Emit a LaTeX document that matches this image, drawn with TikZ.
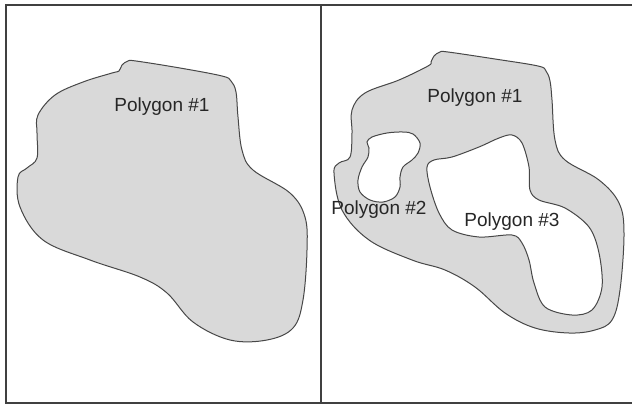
\documentclass[tikz,border=0pt]{standalone}
\usepackage{fontspec}
\setmainfont{Liberation Sans}
\begin{document}
\begin{tikzpicture}[x=1pt,y=-1pt,
  frameline/.style={draw=black!75,line width=1.6pt},
  region/.style={draw=black!72,line width=1pt,fill=black!15,even odd rule},
  label/.style={font=\fontsize{19}{22}\selectfont,text=black!85,inner sep=0pt}]
\useasboundingbox (0,0) rectangle (632,407);
% frame
\draw[frameline] (632,5) -- (6,5) -- (6,403) -- (632,403);
\draw[frameline] (321,5) -- (321,403);
% left polygon
\path[region] plot[smooth cycle,tension=0.6] coordinates {
 (119,71) (122,65) (128,61) (136,61) (180,68) (222,76) (231,81) (236,92)
 (238,117) (242,150) (253,170) (290,193) (305,217) (307,250) (303,300)
 (293,328) (267,340) (230,340) (193,322) (167,293) (140,277) (90,260)
 (43,240) (20,207) (18,177) (27,168) (37,158) (37,133) (38,115) (55,95)
 (83,82) (112,73)};
\node[label] (l1) at (162,107) {Polygon \#1};
% right polygon with holes
\path[region] plot[smooth cycle,tension=0.6] coordinates {
 (431,62) (434,56) (440,52) (448,52) (495,59) (538,66) (546,71) (550,81)
 (552,100) (555,140) (565,160) (599,180) (619,203) (624,233) (620,290)
 (612,320) (595,330) (569,333) (535,328) (505,313) (475,287) (445,270)
 (412,260) (369,240) (342,210) (334,173) (339,163) (350,157) (352,133)
 (352,110) (365,93) (399,80) (428,66)}
 plot[smooth cycle,tension=0.55] coordinates {
 (372,137) (387,133) (403,132) (413,134) (420,143) (418,153) (412,160)
 (403,167) (400,177) (400,187) (395,197) (383,202) (370,200) (360,192)
 (358,180) (362,167) (368,157) (369,148) (367,142)}
 plot[smooth cycle,tension=0.55] coordinates {
 (512,135) (522,143) (529,167) (530,190) (539,200) (565,208) (589,227)
 (599,253) (602,287) (592,310) (572,315) (545,307) (534,283) (529,260)
 (522,243) (512,235) (479,237) (452,230) (439,213) (430,187) (427,167)
 (434,160) (452,157) (479,147) (499,138)};
\node[label] (r1) at (475,98) {Polygon \#1};
\node[label] (r2) at (379,210) {Polygon \#2};
\node[label] (r3) at (512,222) {Polygon \#3};
\end{tikzpicture}
\end{document}
